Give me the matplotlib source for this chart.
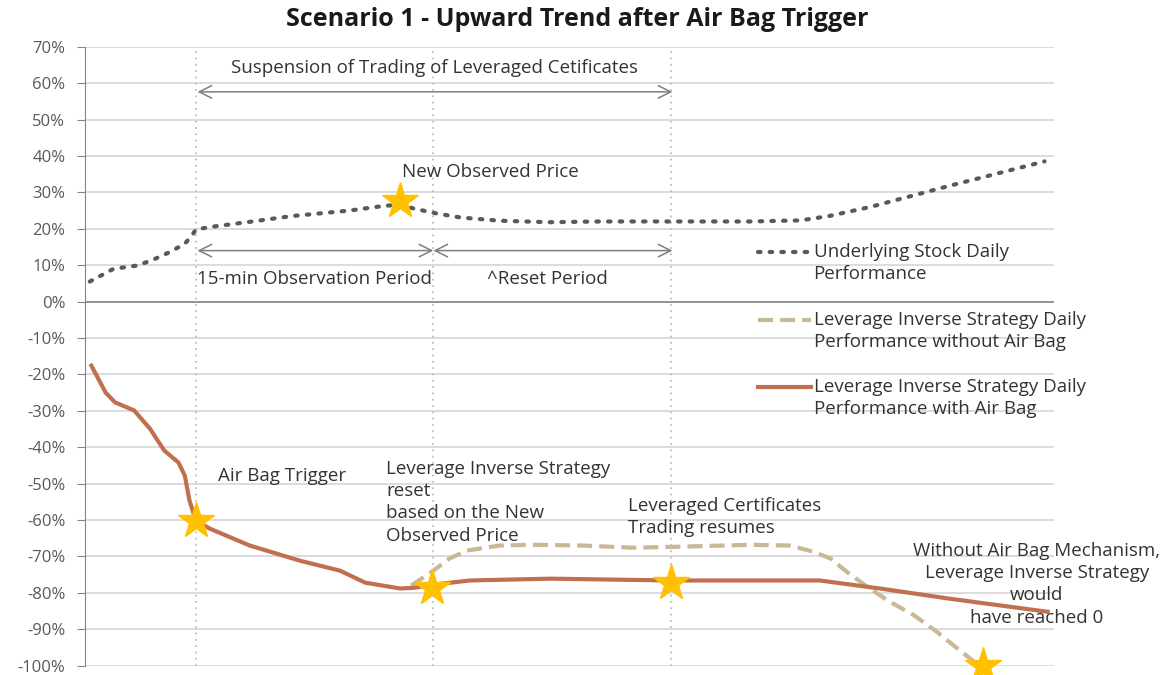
import numpy as np
import matplotlib
matplotlib.use('Agg')
import matplotlib.pyplot as plt
from matplotlib.ticker import PercentFormatter

plt.rcParams['font.family'] = ['Open Sans', 'DejaVu Sans']
plt.rcParams['axes.unicode_minus'] = False

# minutos respecto al disparo del air bag
t_stock = [-6.7, -5.2, -3.7, -2.7, -1.6, -0.7, -0.25, 0, 1.1, 3.4, 6.1, 9.7, 11.9, 12.9,
           13.8, 15.2, 16.7, 19.2, 22.4, 25.5, 29.9, 35, 38.2, 40, 42.6, 47.6, 53.6]
stock = [5.5, 9.0, 9.9, 11.5, 13.7, 15.9, 18.1, 19.8, 20.6, 21.9, 23.5, 25.0, 26.3, 26.6,
         25.5, 24.2, 23.1, 22.2, 21.8, 22.0, 22.0, 22.0, 22.3, 23.5, 26.0, 31.8, 38.5]

t_air = [-6.6, -5.7, -5.1, -3.9, -2.9, -2.0, -1.1, -0.7, -0.4, 0, 0.9, 3.4, 6.6, 9.1,
         10.7, 12.9, 13.8, 15.1, 17.3, 22.4, 30, 39.4, 43.2, 47.6, 53.8]
with_airbag = [-17.6, -25.0, -27.7, -29.9, -34.9, -40.9, -44.2, -47.8, -54.7, -60.2, -62.4,
               -67.0, -71.2, -73.9, -77.2, -78.8, -78.6, -77.7, -76.6, -76.1, -76.6, -76.6,
               -78.8, -81.6, -85.2]

t_noair = [13.6, 15, 16, 17.1, 19.2, 21.3, 24.4, 27.6, 30.8, 35, 37.5, 39, 40.1, 41.1,
           42.4, 43.8, 45.3, 46.8, 48.1, 49.3, 49.7]
without_airbag = [-78.0, -73.9, -70.6, -68.4, -67.0, -66.8, -67.0, -67.6, -67.3, -66.8, -67.0,
                  -68.7, -70.6, -74.2, -78.3, -82.4, -86.0, -90.7, -95.3, -99.4, -100.0]

star_t = [0, 12.9, 14.9, 30, 49.7]
star_v = [-60.2, 27.7, -78.6, -77.2, -100.0]

periodos = [0, 15, 30]

txt = '#333333'
gris = '#868686'
fs = 13.5
ls = 1.31

fig = plt.figure(figsize=(11.73, 6.75), dpi=100)
ax = fig.add_axes([0.0725, 0.0138, 0.8261, 0.917])

ax.set_xlim(-7.0, 54.2)
ax.set_ylim(-100, 70)
ax.set_yticks(np.arange(-100, 71, 10))
ax.yaxis.set_major_formatter(PercentFormatter(decimals=0))
ax.set_xticks([])
ax.grid(axis='y', color='#D9D9D9', linewidth=1.3)
ax.set_axisbelow(True)
ax.axhline(0, color=gris, linewidth=1.2, zorder=1)
for s in ['top', 'right', 'bottom']:
    ax.spines[s].set_visible(False)
ax.spines['left'].set_color(gris)
ax.tick_params(axis='y', colors=gris, length=5.7, labelsize=12, labelcolor='#595959', pad=8.5)

for p in periodos:
    ax.axvline(p, color='#BFBFBF', linestyle=(0, (1, 2.5)), linewidth=1.3, zorder=1)

ax.plot(t_stock, stock, color='#595959', linestyle=(0, (0.6, 2.2)), linewidth=3,
        dash_capstyle='round', label='Underlying Stock Daily\nPerformance', zorder=3)
ax.plot(t_noair, without_airbag, color='#C9B896', linestyle=(0, (3.6, 1.7)), linewidth=3,
        label='Leverage Inverse Strategy Daily\nPerformance without Air Bag', zorder=3)
ax.plot(t_air, with_airbag, color='#C0704F', linewidth=3,
        label='Leverage Inverse Strategy Daily\nPerformance with Air Bag', zorder=4)
ax.plot(star_t, star_v, linestyle='none', marker='*', markersize=27, color='#FFC000',
        markeredgecolor='#FFC000', clip_on=False, zorder=5)

# flechas de periodos
flecha = dict(arrowstyle='<->,head_length=0.9,head_width=0.45', color='#7F7F7F', lw=1.1,
              shrinkA=0, shrinkB=0)
ax.annotate('', xy=(0.1, 57.6), xytext=(30.1, 57.6), arrowprops=flecha)
ax.annotate('', xy=(0.1, 14), xytext=(15, 14), arrowprops=flecha)
ax.annotate('', xy=(15, 14), xytext=(30.1, 14), arrowprops=flecha)

ax.text(15.1, 64.2, 'Suspension of Trading of Leveraged Cetificates', ha='center', va='center', fontsize=fs, color=txt)
ax.text(18.6, 35.7, 'New Observed Price', ha='center', va='center', fontsize=fs, color=txt)
ax.text(0.1, 6.3, '15-min Observation Period', ha='left', va='center', fontsize=fs, color=txt)
ax.text(22.2, 6.3, '^Reset Period', ha='center', va='center', fontsize=fs, color=txt)
ax.text(1.4, -47.8, 'Air Bag Trigger', ha='left', va='center', fontsize=fs, color=txt)
ax.text(12.0, -43.4, 'Leverage Inverse Strategy\nreset\nbased on the New\nObserved Price',
        ha='left', va='top', fontsize=fs, color=txt, linespacing=ls)
ax.text(27.3, -53.6, 'Leveraged Certificates\nTrading resumes', ha='left', va='top',
        fontsize=fs, color=txt, linespacing=ls)
ax.text(53.1, -65.9, 'Without Air Bag Mechanism,\nLeverage Inverse Strategy\nwould\nhave reached 0',
        ha='center', va='top', fontsize=fs, color=txt, linespacing=ls, clip_on=False,
        multialignment='center')

leg = ax.legend(loc='upper left', bbox_to_anchor=(758 / 1173, 1 - 243 / 675),
                bbox_transform=fig.transFigure, frameon=False, fontsize=fs,
                handlelength=2.8, handletextpad=0.16, labelspacing=1.45, borderpad=0,
                borderaxespad=0)
for t in leg.get_texts():
    t.set_color(txt)
    t.set_linespacing(ls)
# subir el símbolo a la primera línea del texto
for h in leg.legend_handles:
    h.set_ydata(np.asarray(h.get_ydata()) + 8.3)

fig.text(577 / 1173, 1 - 20 / 675, 'Scenario 1 - Upward Trend after Air Bag Trigger',
         ha='center', va='center', fontsize=18, fontweight='bold', color='#1a1a1a')

fig.savefig('out.png', dpi=100)
